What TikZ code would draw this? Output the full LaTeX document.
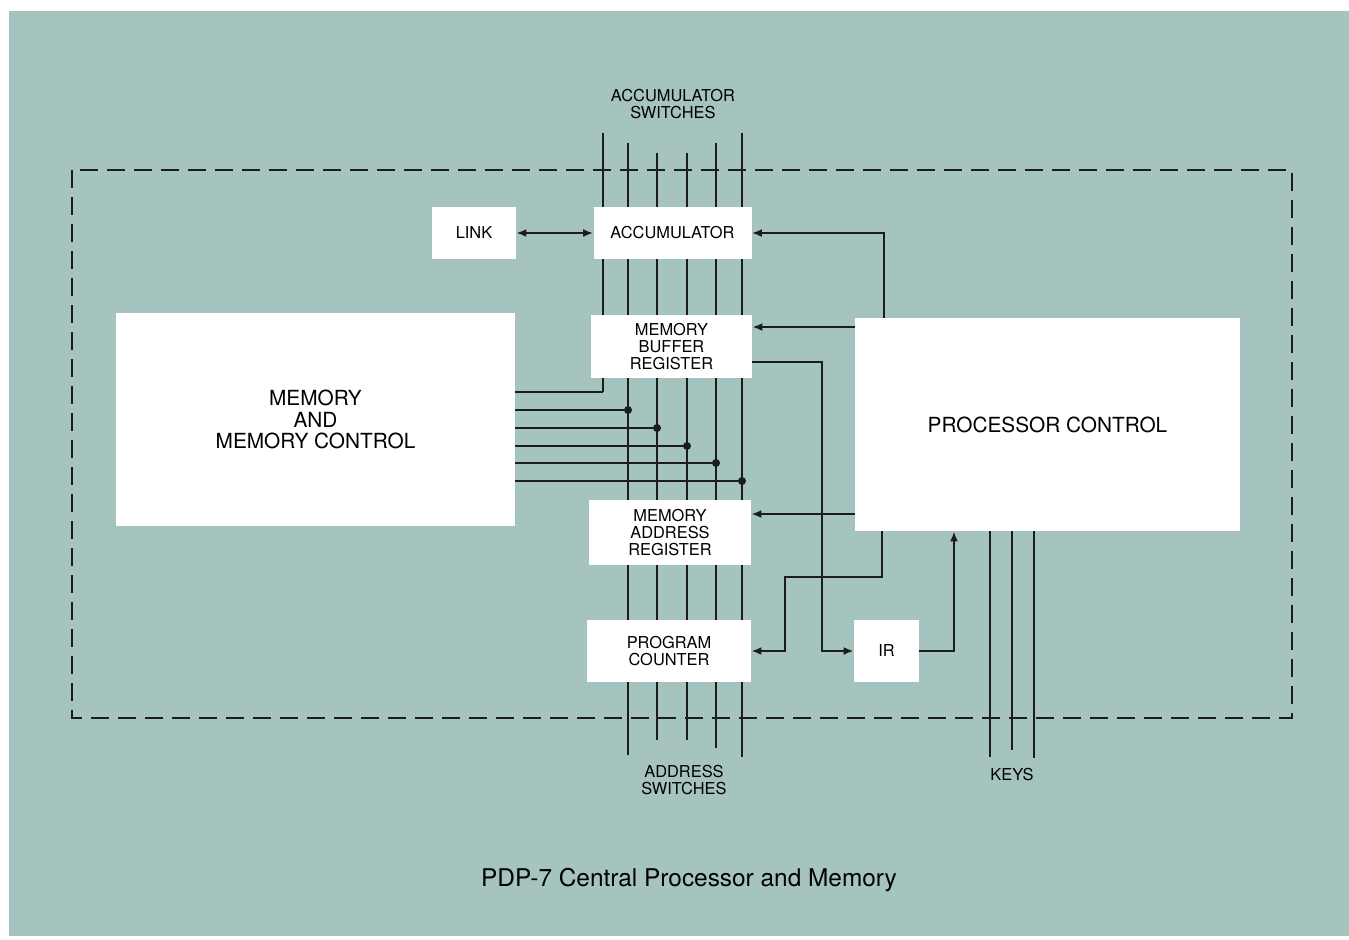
\documentclass[tikz,border=0pt]{standalone}
\usepackage{fontspec}
\setmainfont{TeX Gyre Heros}
\usetikzlibrary{arrows.meta,positioning}
\definecolor{panel}{RGB}{165,196,191}
\definecolor{ink}{RGB}{28,28,28}

\begin{document}
\begin{tikzpicture}
    [x=0.5pt,y=-0.5pt,
    register/.style={rectangle,fill=white,inner sep=0pt,align=center,
    font=\fontsize{8.2}{8.6}\selectfont},
    unit/.style={rectangle,fill=white,inner sep=0pt,align=center,
    font=\fontsize{10.4}{10.9}\selectfont},
    wire/.style={draw=ink,line width=1pt},
    flow/.style={wire,-{Latex[length=5pt,width=4pt]}},
    tag/.style={inner sep=0pt,align=center,font=\fontsize{8.2}{8.6}\selectfont}]
    \useasboundingbox (0,0) rectangle (1349,939);
    \fill[white] (0,0) rectangle (1349,939);
    \fill[panel] (9,11) rectangle (1349,936);
    % processor boundary
    \draw[ink,line width=1pt,dash pattern=on 9pt off 4.5pt] (72,170) rectangle (1292,718);
    % switch bus
    \coordinate (bus0 top) at (603,133);
    \coordinate (bus0 turn) at (603,392);
    \draw[wire] (bus0 top) -- (bus0 turn);
    \foreach \x/\top/\bot [count=\i] in {628/143/755,657/153/740,687/153/740,716/143/748,742/133/757} {
      \coordinate (bus\i top) at (\x,\top);
      \coordinate (bus\i bot) at (\x,\bot);
      \draw[wire] (bus\i top) -- (bus\i bot);
    }
    % registers and units
    \node[register,minimum width=42pt,minimum height=26pt] (link) at (474,233) {LINK};
    \node[register,minimum width=79pt,minimum height=26pt] (acc) at (672.5,233) {ACCUMULATOR};
    \node[register,minimum width=80.5pt,minimum height=31.5pt] (mbr) at (671.5,346.5) {MEMORY\\BUFFER\\REGISTER};
    \node[register,minimum width=81pt,minimum height=32.5pt] (mar) at (670,532.5) {MEMORY\\ADDRESS\\REGISTER};
    \node[register,minimum width=82pt,minimum height=31pt] (pc) at (669,651) {PROGRAM\\COUNTER};
    \node[register,minimum width=32.5pt,minimum height=31pt] (ir) at (886.5,651) {IR};
    \node[unit,minimum width=199.5pt,minimum height=106.5pt] (mem) at (315.5,419.5) {MEMORY\\AND\\MEMORY CONTROL};
    \node[unit,minimum width=192.5pt,minimum height=106.5pt] (proc) at (1047.5,424.5) {PROCESSOR CONTROL};
    % memory taps
    \draw[wire] (bus0 turn) -- (mem.east |- bus0 turn);
    \foreach \y [count=\i] in {410,428,446,463,481} {
      \draw[wire] (mem.east |- 0,\y) -- (bus\i top |- 0,\y);
      \fill[ink] (bus\i top |- 0,\y) circle (2pt);
    }
    % data paths
    \draw[wire,{Latex[length=5pt,width=4pt]}-{Latex[length=5pt,width=4pt]}] (link) -- (acc);
    \draw[flow] (proc.north -| 884,0) |- (acc.east);
    \draw[flow] (proc.west |- 0,327) -- (mbr.east |- 0,327);
    \draw[flow] (mbr.east |- 0,362) -| (822,651) -- (ir.west);
    \draw[flow] (proc.west |- 0,514) -- (mar.east |- 0,514);
    \draw[flow] (proc.south -| 882,0) |- (785,577) |- (pc.east);
    \draw[flow] (ir.east) -| (proc.south -| 954,0);
    % keys
    \foreach \x/\bot [count=\i] in {990/757,1012/750,1034/758} {
      \coordinate (key\i) at (\x,\bot);
      \draw[wire] (proc.south -| key\i) -- (key\i);
    }
    % labels
    \node[tag] (acc switches) at (673,104) {ACCUMULATOR\\SWITCHES};
    \node[tag] (addr switches) at (684,780) {ADDRESS\\SWITCHES};
    \node[tag,below=9pt of key2] (keys) {KEYS};
    \node[inner sep=0pt,font=\fontsize{12.2}{14}\selectfont] (caption) at (689,880) {PDP-7 Central Processor and Memory};
\end{tikzpicture}
\end{document}
